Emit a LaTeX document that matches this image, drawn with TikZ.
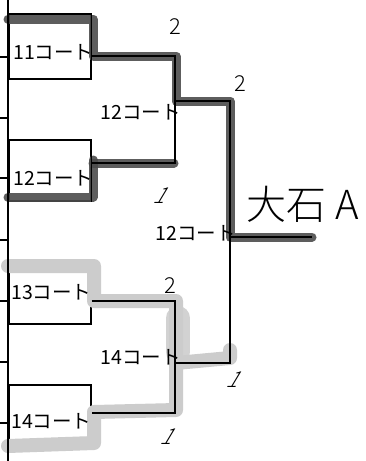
\documentclass[tikz,border=0pt]{standalone}
\usepackage{fontspec}
\newfontfamily\jp{Noto Sans CJK JP}
\newfontfamily\jpl{Noto Sans CJK JP Light}
\begin{document}
\begin{tikzpicture}[x=1pt,y=-1pt,
  thin line/.style={line width=1.6pt,black},
  darkband/.style={line width=9pt,black!70,line join=round,line cap=round,opacity=0.9},
  greyband/.style={line width=14pt,gray!40,line join=round,line cap=round},
  greywide/.style={line width=24pt,gray!35,line join=round,line cap=round},
  boxstyle/.style={draw,thin line,fill=white,minimum width=82pt,anchor=north west,inner sep=0pt},
  court/.style={font=\jp\fontsize{19.5}{20}\selectfont,inner sep=0pt,anchor=west},
  score/.style={font=\jpl\fontsize{22}{22}\selectfont,inner sep=0pt}]
\useasboundingbox (0,0) rectangle (366,461);
\fill[white] (0,0) rectangle (366,461);
% boxes
\node[boxstyle,minimum height=65pt] (b1) at (8,13) {};
\node[boxstyle,minimum height=61pt] (b2) at (8,139) {};
\node[boxstyle,minimum height=62pt] (b3) at (8,261) {};
\node[boxstyle,minimum height=61pt] (b4) at (8,384) {};
% shading bands
\draw[greywide] (178,318) -- (178,352);
\draw[greyband] (8,266) -- (94,266) -- (94,301) -- (176,301) -- (176,363) -- (230,358) -- (230,350);
\draw[greyband] (176,363) -- (176,410) -- (94,412) -- (94,443) -- (8,446);
\draw[darkband] (8,19) -- (93,19) -- (93,56) -- (176,56) -- (176,101) -- (230,101) -- (230,237) -- (312,237);
\draw[darkband] (93,160) -- (93,197) -- (8,197);
\draw[darkband] (93,163) -- (174,163);
% left axis
\coordinate (axt) at (8,0);
\coordinate (axb) at (8,461);
\draw[thin line] (axt) -- (axb);
\foreach \y in {57,118,178,240,301,362,423} \draw[thin line] (0,\y) -- (8,\y);
% bracket coordinates
\coordinate (m1t) at (175,56);
\coordinate (m1b) at (175,163);
\coordinate (m1w) at (175,101);
\coordinate (m2t) at (175,301);
\coordinate (m2b) at (175,413);
\coordinate (m2w) at (175,363);
\coordinate (ft) at (230,101);
\coordinate (fb) at (230,363);
\coordinate (fw) at (230,237);
\coordinate (win) at (312,237);
\draw[thin line] (b1.north east) -- (b1.south east);
\draw[thin line] (b2.north east) -- (b2.south east);
\draw[thin line] (b1.east |- m1t) -- (m1t) -- (m1b) -- (b2.east |- m1b);
\draw[thin line] (b3.east |- m2t) -- (m2t) -- (m2b) -- (b4.east |- m2b);
\draw[thin line] (m1w) -- (ft) -- (fb) -- (m2w);
\draw[thin line] (fw) -- (win);
% labels
\node[court] (t1) at (13,52) {11コート};
\node[court] (t2) at (13,178) {12コート};
\node[court] (t3) at (11,292) {13コート};
\node[court] (t4) at (11,421) {14コート};
\node[court,anchor=east] (t5) at (181,112) {12コート};
\node[court,anchor=east] (t6) at (236,233) {12コート};
\node[court,anchor=east] (t7) at (181,357) {14コート};
\node[font=\jpl\fontsize{40}{40}\selectfont,inner sep=0pt] (w) at (303,204) {大石 A};
\node[score] (s1) at (175,27) {2};
\node[score] (s2) at (240,84) {2};
\node[score,xslant=0.6] (s3) at (163,196) {1};
\node[score] (s4) at (170,286) {2};
\node[score,xslant=0.6] (s5) at (236,380) {1};
\node[score,xslant=0.6] (s6) at (170,437) {1};
\end{tikzpicture}
\end{document}
